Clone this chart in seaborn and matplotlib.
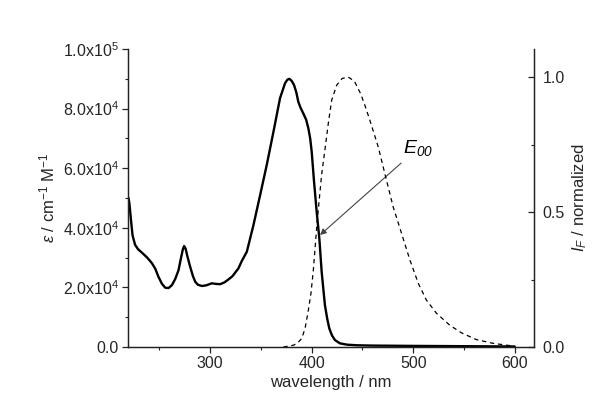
import numpy as np
import pandas as pd
import seaborn as sns
import matplotlib.pyplot as plt
from matplotlib.ticker import FixedLocator, FixedFormatter, MultipleLocator

# absorption spectrum (epsilon, M^-1 cm^-1)
abs_wl = [219.5, 220.4, 222, 223.5, 226, 229, 233, 238, 242.7, 246, 249, 252.5, 255.8, 259, 262.3,
          265.5, 268.8, 271, 273, 274.3, 275.8, 277.5, 280.3, 283, 285.3, 288, 291.8, 296, 301.6,
          305.5, 309.8, 314, 318, 322, 327.8, 331, 336.1, 342.6, 349.2, 355.7, 362.3, 368.8,
          373.7, 376, 378, 380.3, 382.6, 384.8, 386.8, 389, 391.7, 394.5, 396.7, 398.5, 400,
          402.3, 404.9, 407.5, 409.8, 413, 415.3, 417.3, 420, 422.9, 427.8, 435, 445, 460, 500,
          550, 600]
abs_eps = [50000, 48200, 42500, 37500, 34300, 32800, 31600, 30000, 28100, 26200, 23600, 21200, 19900, 19800, 20800,
           22800, 25800, 29500, 32700, 33900, 33000, 30500, 26900, 23800, 21900, 20900, 20500, 20700, 21400,
           21200, 21100, 21700, 22700, 23800, 26400, 28800, 32000, 40900, 51000, 61100, 72200, 83500,
           88500, 89700, 90000, 89300, 87900, 85500, 82300, 80300, 78400, 76300, 73400, 70000, 65500,
           55500, 45400, 36500, 25300, 14100, 9500, 6300, 3900, 2350, 1250, 800, 600, 500, 400,
           300, 200]

# fluorescence spectrum (normalized)
fl_wl = [372, 382, 386, 390.2, 393.5, 396.7, 399.3, 401.6, 405.5, 409.8, 413, 416.4, 419.7, 424.6,
         430, 436, 442, 448, 452, 457.3, 465.5, 472, 480.2, 488.6, 496.8, 505, 513, 523, 536, 547.4,
         562, 578.5, 598]
fl_int = [0.0, 0.007, 0.015, 0.032, 0.07, 0.137, 0.2, 0.285, 0.47, 0.64, 0.73, 0.83, 0.915, 0.97,
          0.995, 1.0, 0.985, 0.94, 0.9, 0.84, 0.742, 0.643, 0.52, 0.42, 0.322, 0.236, 0.174, 0.125, 0.081, 0.053,
          0.028, 0.014, 0.004]

left_ticks = [0, 20000, 40000, 60000, 80000, 100000]
left_labels = ["0.0", "2.0x10$^4$", "4.0x10$^4$", "6.0x10$^4$", "8.0x10$^4$", "1.0x10$^5$"]
right_ticks = [0.0, 0.5, 1.0]
right_labels = ["0.0", "0.5", "1.0"]
x_ticks = [300, 400, 500, 600]

sns.set_style("ticks")
plt.rcParams['font.family'] = ['Liberation Sans', 'DejaVu Sans']
plt.rcParams['mathtext.fontset'] = 'custom'
plt.rcParams['mathtext.rm'] = 'Liberation Sans'
plt.rcParams['mathtext.it'] = 'Liberation Sans:italic'
# italic via the sf slot so digits in subscripts stay italic too
plt.rcParams['mathtext.sf'] = 'Liberation Sans:italic'
plt.rcParams['mathtext.default'] = 'regular'

abs_df = pd.DataFrame({"wl": abs_wl, "eps": abs_eps})
fl_df = pd.DataFrame({"wl": fl_wl, "I": fl_int})

fig = plt.figure(figsize=(5.98, 4.05), dpi=100)
ax = fig.add_axes([0.214, 0.143, 0.679, 0.736])
ax2 = ax.twinx()

sns.lineplot(data=abs_df, x="wl", y="eps", ax=ax, color="black", lw=1.7, sort=False, estimator=None)
sns.lineplot(data=fl_df, x="wl", y="I", ax=ax2, color="black", lw=0.9, sort=False, estimator=None,
             dashes=False, linestyle=(0, (3.5, 3)))

ax.set_xlim(219, 619)
ax.set_ylim(0, 100000)
ax2.set_ylim(0, 1.104)

ax.xaxis.set_major_locator(FixedLocator(x_ticks))
ax.xaxis.set_minor_locator(MultipleLocator(50))
ax.yaxis.set_major_locator(FixedLocator(left_ticks))
ax.yaxis.set_major_formatter(FixedFormatter(left_labels))
ax.yaxis.set_minor_locator(MultipleLocator(10000))
ax2.yaxis.set_major_locator(FixedLocator(right_ticks))
ax2.yaxis.set_major_formatter(FixedFormatter(right_labels))
ax2.yaxis.set_minor_locator(MultipleLocator(0.25))

for a in (ax, ax2):
    a.spines['top'].set_visible(False)
    for s in a.spines.values():
        s.set_linewidth(0.9)
        s.set_color("#222222")

ax.tick_params(which='major', direction='out', length=4, width=0.9, labelsize=11.5, pad=2.5, color="#222222")
ax.tick_params(which='minor', direction='out', length=2.5, width=0.8, color="#222222")
ax2.tick_params(which='major', direction='in', length=4, width=0.9, labelsize=11.5, pad=6, color="#222222")
ax2.tick_params(which='minor', direction='in', length=2.5, width=0.8, color="#222222")

ax.set_xlabel("wavelength / nm", fontsize=12, labelpad=3)
ax.set_ylabel("$\\mathsf{\\varepsilon}$ / cm$^{-1}$ M$^{-1}$", fontsize=12, labelpad=4)
ax2.set_ylabel("$\\mathsf{I_F}$ / normalized", fontsize=12, labelpad=4)

ax.annotate("$\\mathsf{E_{00}}$", xy=(408.2, 37600), xytext=(490, 66800),
            fontsize=14, va='center', ha='left', color="black",
            arrowprops=dict(arrowstyle="-|>", color="#444444", lw=0.8,
                            mutation_scale=9, shrinkA=2, shrinkB=0))

fig.savefig("out.png", dpi=100)
